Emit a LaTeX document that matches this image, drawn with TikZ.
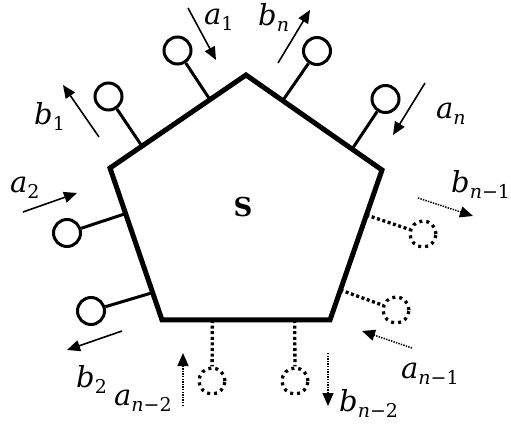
\documentclass[tikz,border=0pt]{standalone}
\usepackage{fontspec}
\newfontfamily\labfont{DejaVu Serif}
\usetikzlibrary{arrows.meta,calc}
\newcommand\mylab[2]{{\labfont\fontsize{29}{34}\selectfont\itshape #1}\raisebox{-6pt}{\labfont\fontsize{19}{22}\selectfont #2}}
\tikzset{
  pent/.style={line width=5pt, line join=miter},
  port/.style={circle, draw, line width=3pt, minimum size=27pt, inner sep=0pt, fill=white},
  dport/.style={circle, draw, line width=3.3pt, dash pattern=on 3pt off 4pt, minimum size=26pt, inner sep=0pt},
  stub/.style={line width=3pt},
  dstub/.style={line width=3.3pt, dash pattern=on 3pt off 2.6pt},
  arr/.style={line width=1.6pt, -{Triangle[length=13pt,width=11pt]}},
  darr/.style={line width=1.5pt, dash pattern=on 1.4pt off 1.2pt, -{Triangle[length=13pt,width=11pt]}},
  lab/.style={anchor=base west, inner sep=0pt},
}
\begin{document}
\begin{tikzpicture}[x=1pt,y=-1pt]
\useasboundingbox (0,0) rectangle (511,427);
% pentagon
\coordinate (T) at (246,75);
\coordinate (R) at (382,170);
\coordinate (BR) at (330,320);
\coordinate (BL) at (162,320);
\coordinate (L) at (110,168);
\draw[pent] (T) -- (R) -- (BR) -- (BL) -- (L) -- cycle;
\node[font=\labfont\fontsize{26}{30}\selectfont\bfseries] (S) at (243,207) {S};
% attach points
\coordinate (sb1) at ($(L)!0.235!(T)$);
\coordinate (sa1) at ($(L)!0.735!(T)$);
\coordinate (sbn) at ($(T)!0.27!(R)$);
\coordinate (san) at ($(T)!0.78!(R)$);
\coordinate (sbm) at ($(R)!0.3!(BR)$);
\coordinate (sam) at ($(R)!0.8!(BR)$);
\coordinate (sa2) at ($(L)!0.3!(BL)$);
\coordinate (sb2) at ($(L)!0.82!(BL)$);
\coordinate (sak) at ($(BL)!0.3!(BR)$);
\coordinate (sbk) at ($(BL)!0.79!(BR)$);
% ports
\node[port] (cb1) at (108.5,96.5) {};
\node[port] (ca1) at (177.5,50.5) {};
\node[port] (cbn) at (317,51) {};
\node[port] (can) at (385.5,99) {};
\node[port] (ca2) at (67,233) {};
\node[port] (cb2) at (91,311) {};
\node[dport] (cbm) at (423,234) {};
\node[dport] (cam) at (396,310) {};
\node[dport] (cak) at (212,381) {};
\node[dport] (cbk) at (295,381) {};
\draw[stub] (sb1) -- (cb1);
\draw[stub] (sa1) -- (ca1);
\draw[stub] (sbn) -- (cbn);
\draw[stub] (san) -- (can);
\draw[stub] (sa2) -- (ca2);
\draw[stub] (sb2) -- (cb2);
\draw[dstub] (sbm) -- (cbm);
\draw[dstub] (sam) -- (cam);
\draw[dstub] (sak) -- (cak);
\draw[dstub] (sbk) -- (cbk);
% arrows
\coordinate (A1s) at (188,8);   \coordinate (A1e) at (216,60);
\coordinate (B1s) at (99,137);  \coordinate (B1e) at (63,85);
\coordinate (A2s) at (23,212);  \coordinate (A2e) at (77,193);
\coordinate (B2s) at (122,331); \coordinate (B2e) at (67,350);
\coordinate (Bns) at (278,63);  \coordinate (Bne) at (310,10);
\coordinate (Ans) at (425,83);  \coordinate (Ane) at (393,135);
\coordinate (Bms) at (418,198); \coordinate (Bme) at (473,216);
\coordinate (Ams) at (412,348); \coordinate (Ame) at (362,331);
\coordinate (Aks) at (183,406); \coordinate (Ake) at (183,353);
\coordinate (Bks) at (328,353); \coordinate (Bke) at (328,406);
\draw[arr] (A1s) -- (A1e);
\draw[arr] (B1s) -- (B1e);
\draw[arr] (A2s) -- (A2e);
\draw[arr] (B2s) -- (B2e);
\draw[arr] (Bns) -- (Bne);
\draw[arr] (Ans) -- (Ane);
\draw[darr] (Bms) -- (Bme);
\draw[darr] (Ams) -- (Ame);
\draw[darr] (Aks) -- (Ake);
\draw[darr] (Bks) -- (Bke);
% labels
\node[lab] (la1) at (204,25) {\mylab{a}{1}};
\node[lab] (lbn) at (258,26) {\mylab{b}{\itshape n}};
\node[lab] (lb1) at (34,125) {\mylab{b}{1}};
\node[lab] (la2) at (10,193) {\mylab{a}{2}};
\node[lab] (lan) at (436,119) {\mylab{a}{\itshape n}};
\node[lab] (lbm) at (451,193) {\mylab{b}{{\itshape n}−1}};
\node[lab] (lam) at (401,378) {\mylab{a}{{\itshape n}−1}};
\node[lab] (lbk) at (339,411) {\mylab{b}{{\itshape n}−2}};
\node[lab] (lak) at (114,405) {\mylab{a}{{\itshape n}−2}};
\node[lab] (lb2) at (76,387) {\mylab{b}{2}};
\end{tikzpicture}
\end{document}
